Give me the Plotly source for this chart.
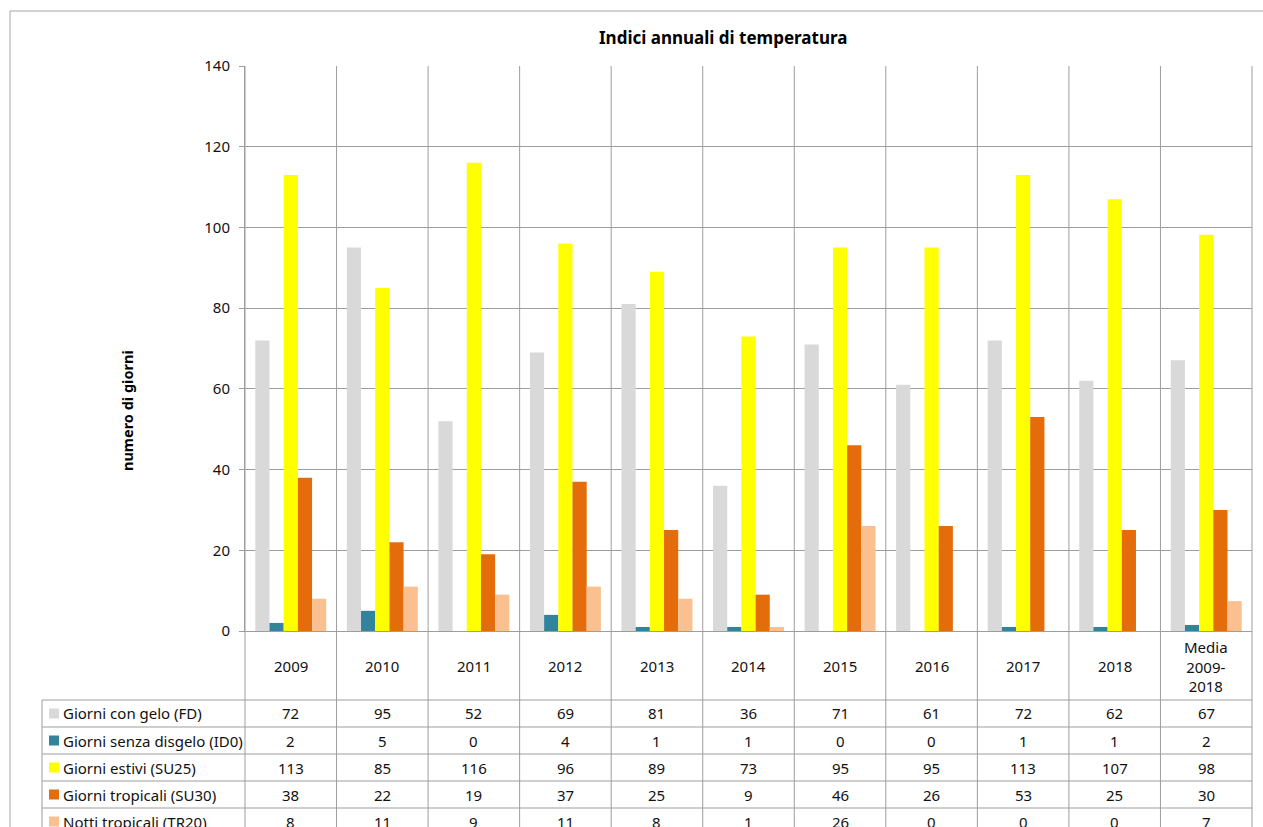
import plotly.graph_objects as go

categories = ["2009", "2010", "2011", "2012", "2013", "2014", "2015", "2016", "2017", "2018", "Media 2009-2018"]
tick_labels = ["2009", "2010", "2011", "2012", "2013", "2014", "2015", "2016", "2017", "2018", "Media<br>2009-<br>2018"]

series_names = ["Giorni con gelo (FD)", "Giorni senza disgelo (ID0)", "Giorni estivi (SU25)",
                "Giorni tropicali (SU30)", "Notti tropicali (TR20)"]
fd = [72, 95, 52, 69, 81, 36, 71, 61, 72, 62, 67.1]
id0 = [2, 5, 0, 4, 1, 1, 0, 0, 1, 1, 1.5]
su25 = [113, 85, 116, 96, 89, 73, 95, 95, 113, 107, 98.2]
su30 = [38, 22, 19, 37, 25, 9, 46, 26, 53, 25, 30.0]
tr20 = [8, 11, 9, 11, 8, 1, 26, 0, 0, 0, 7.4]
colors = ["#D9D9D9", "#31849B", "#FFFF00", "#E46C0A", "#FAC090"]

y_ticks = [0, 20, 40, 60, 80, 100, 120, 140]

W, H = 1263, 827
L, R, T, B = 245, 11, 66, 196
pw = W - L - R
ph = H - T - B
FONT = "Noto Sans"
FS = 15
GRID = "#9d9d9d"
TXT = "#111111"

def px_x(px):
    return (px - L) / pw

def px_y(py):
    return (H - B - py) / ph

fig = go.Figure()
all_series = [fd, id0, su25, su30, tr20]
for name, vals, col in zip(series_names, all_series, colors):
    fig.add_trace(go.Bar(x=categories, y=vals, name=name, marker=dict(color=col, line=dict(width=0)),
                         showlegend=False))

shapes = []
annotations = []
n = len(categories)

# outer chart border
shapes.append(dict(type="rect", xref="paper", yref="paper", x0=px_x(10), x1=px_x(1275),
                   y0=px_y(840), y1=px_y(11), line=dict(color="#a6a6a6", width=1), layer="below"))

# row geometry of the data table
row_tops = [700, 727, 754, 781, 808, 835]
table_left = 42

# vertical category boundaries (plot + label row + table)
for i in range(n + 1):
    xp = i / n
    shapes.append(dict(type="line", xref="paper", yref="paper", x0=xp, x1=xp, y0=px_y(840), y1=1,
                       line=dict(color=GRID, width=1)))
# table left border
shapes.append(dict(type="line", xref="paper", yref="paper", x0=px_x(table_left), x1=px_x(table_left),
                   y0=px_y(840), y1=px_y(row_tops[0]), line=dict(color=GRID, width=1)))
# table horizontal lines
for yt in row_tops[:-1]:
    shapes.append(dict(type="line", xref="paper", yref="paper", x0=px_x(table_left), x1=1,
                       y0=px_y(yt), y1=px_y(yt), line=dict(color=GRID, width=1)))

# category labels
for i, lab in enumerate(tick_labels):
    annotations.append(dict(x=i, xref="x", y=px_y(666), yref="paper", text=lab, showarrow=False,
                            font=dict(family=FONT, size=FS, color=TXT), xanchor="center",
                            yanchor="middle", align="center"))

# table rows
for r, (name, vals, col) in enumerate(zip(series_names, all_series, colors)):
    yc = (row_tops[r] + row_tops[r + 1]) / 2
    shapes.append(dict(type="rect", xref="paper", yref="paper", x0=px_x(49), x1=px_x(59),
                       y0=px_y(yc + 5), y1=px_y(yc - 5), fillcolor=col, line=dict(width=0)))
    annotations.append(dict(x=px_x(61), xref="paper", y=px_y(yc), yref="paper", text=name, showarrow=False,
                            xanchor="left", yanchor="middle",
                            font=dict(family=FONT, size=FS, color=TXT)))
    for i, v in enumerate(vals):
        annotations.append(dict(x=i, xref="x", y=px_y(yc), yref="paper", text=str(round(v)),
                                showarrow=False, xanchor="center", yanchor="middle",
                                font=dict(family=FONT, size=FS, color=TXT)))

# title and y title
annotations.append(dict(x=px_x(723), xref="paper", y=px_y(37), yref="paper",
                        text="<b>Indici annuali di temperatura</b>", showarrow=False,
                        xanchor="center", yanchor="middle",
                        font=dict(family=FONT, size=17, color="#000000")))
annotations.append(dict(x=px_x(127), xref="paper", y=px_y(411), yref="paper",
                        text="<b>numero di giorni</b>", showarrow=False, textangle=-90,
                        xanchor="center", yanchor="middle",
                        font=dict(family=FONT, size=14.5, color="#000000")))

fig.update_layout(
    width=W, height=H,
    margin=dict(l=L, r=R, t=T, b=B, autoexpand=False),
    paper_bgcolor="white", plot_bgcolor="white",
    barmode="group", bargap=0.225, bargroupgap=0,
    shapes=shapes, annotations=annotations,
    showlegend=False,
    xaxis=dict(type="category", categoryorder="array", categoryarray=categories,
               range=[-0.5, n - 0.5], showticklabels=False, showgrid=False, ticks="",
               showline=True, linecolor=GRID, linewidth=1, zeroline=False, fixedrange=True),
    yaxis=dict(range=[0, 140], tickvals=y_ticks, ticktext=[str(v) for v in y_ticks],
               showgrid=True, gridcolor=GRID, gridwidth=1, ticks="outside", ticklen=5,
               tickcolor=GRID, showline=True, linecolor=GRID, linewidth=1, zeroline=False,
               ticklabelstandoff=6,
               tickfont=dict(family=FONT, size=FS, color=TXT), fixedrange=True),
)

fig.write_html("out.html", config={"displayModeBar": False},
               post_script="document.body.style.margin='0';document.body.style.overflow='hidden';")
